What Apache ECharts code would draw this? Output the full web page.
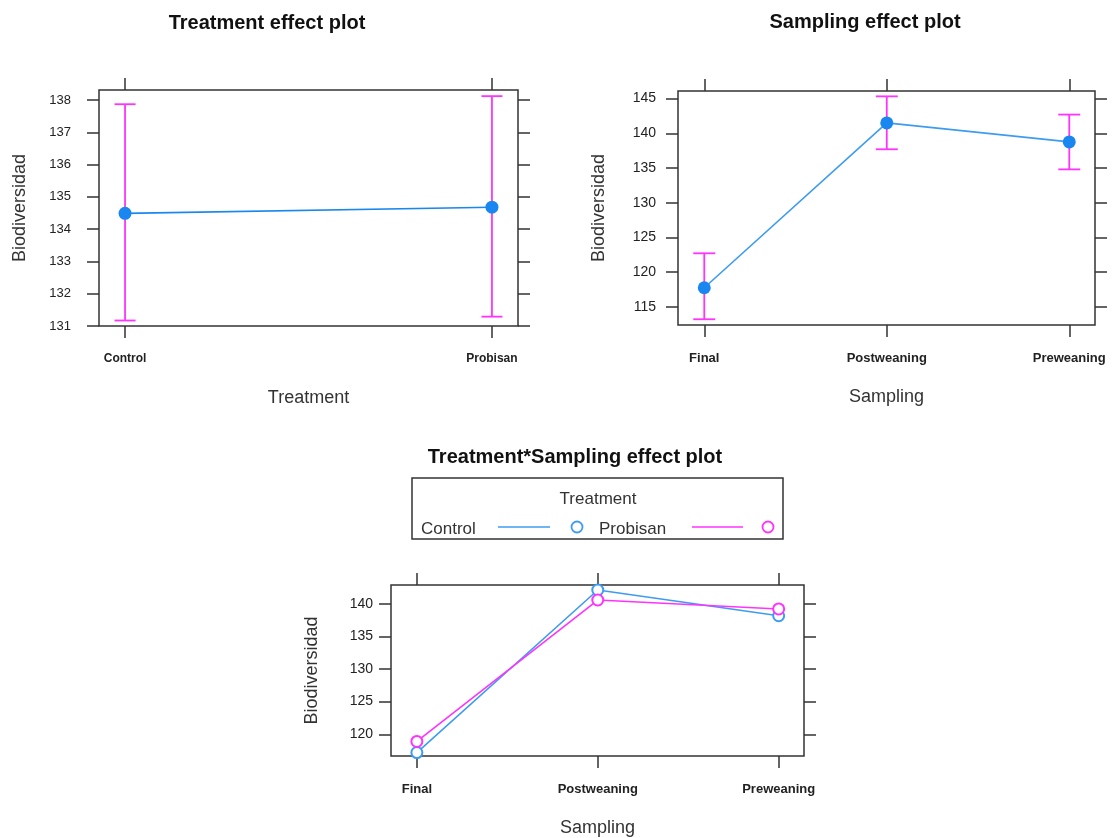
<!DOCTYPE html>
<html>
<head>
<meta charset="utf-8">
<title>effect plots</title>
<script src="https://cdn.jsdelivr.net/npm/echarts@6/dist/echarts.min.js"></script>
<style>
  html, body { margin: 0; padding: 0; background: #fff; }
  #main { width: 1115px; height: 838px; }
</style>
</head>
<body>
<div id="main"></div>
<script>
// data
var treatCats = ['Control', 'Probisan'];
var treatFit = [134.49, 134.68];
var treatLower = [131.17, 131.29];
var treatUpper = [137.87, 138.12];

var sampCats = ['Final', 'Postweaning', 'Preweaning'];
var sampFit = [117.73, 141.5, 138.76];
var sampLower = [113.19, 137.7, 134.8];
var sampUpper = [122.7, 145.33, 142.7];

var ctrlFit = [117.2, 142.1, 138.16];
var probFit = [118.9, 140.57, 139.2];

var treatTicks = [131, 132, 133, 134, 135, 136, 137, 138];
var sampTicks = [115, 120, 125, 130, 135, 140, 145];
var interTicks = [120, 125, 130, 135, 140];

var FONT = '"Liberation Sans", Arial, sans-serif';
var BLUE = '#1a87f0';
var LINEBLUE = '#3e9cf0';
var PINK = '#ff33ff';
var AXIS = '#333';

function pos (n) {
  var a = [];
  for (var i = 1; i <= n; i++) a.push(i);
  return a;
}

// bottom + top x axes for one grid
function xAxes (grid, cats, min, max, name, fontSize) {
  var base = {
    type: 'value', gridIndex: grid, min: min, max: max,
    splitLine: { show: false },
    axisLine: { show: false },
    axisTick: { show: true, inside: false, length: 12, customValues: pos(cats.length), lineStyle: { color: AXIS, width: 1.5 } }
  };
  var bottom = Object.assign({}, base, {
    position: 'bottom',
    name: name, nameLocation: 'middle', nameGap: 63,
    nameTextStyle: { fontFamily: FONT, fontSize: 18, color: '#333' },
    axisLabel: {
      customValues: pos(cats.length), margin: 27,
      fontFamily: FONT, fontSize: fontSize, fontWeight: 'bold', color: '#222',
      formatter: function (v) { return cats[Math.round(v) - 1] || ''; }
    }
  });
  var top = Object.assign({}, base, { position: 'top', axisLabel: { show: false } });
  return [bottom, top];
}

// left + right y axes for one grid
function yAxes (grid, ticks, min, max, margin, fontSize) {
  var base = {
    type: 'value', gridIndex: grid, min: min, max: max,
    splitLine: { show: false },
    axisLine: { show: false },
    axisTick: { show: true, inside: false, length: 12, customValues: ticks, lineStyle: { color: AXIS, width: 1.5 } }
  };
  var left = Object.assign({}, base, {
    position: 'left',
    name: 'Biodiversidad', nameLocation: 'middle', nameGap: 70, nameRotate: 90,
    nameTextStyle: { fontFamily: FONT, fontSize: 18, color: '#333' },
    axisLabel: { customValues: ticks, margin: margin, fontFamily: FONT, fontSize: fontSize, color: '#222' }
  });
  var right = Object.assign({}, base, { position: 'right', axisLabel: { show: false } });
  return [left, right];
}

function errorBars (xi, yi, lower, upper, cap) {
  return {
    type: 'custom', xAxisIndex: xi, yAxisIndex: yi, z: 2,
    encode: { x: 0, y: [1, 2] },
    data: lower.map(function (l, i) { return [i + 1, l, upper[i]]; }),
    renderItem: function (params, api) {
      var lo = api.coord([api.value(0), api.value(1)]);
      var hi = api.coord([api.value(0), api.value(2)]);
      var st = { stroke: PINK, lineWidth: 1.8 };
      return {
        type: 'group',
        children: [
          { type: 'line', shape: { x1: lo[0], y1: lo[1], x2: hi[0], y2: hi[1] }, style: st },
          { type: 'line', shape: { x1: lo[0] - cap, y1: lo[1], x2: lo[0] + cap, y2: lo[1] }, style: st },
          { type: 'line', shape: { x1: hi[0] - cap, y1: hi[1], x2: hi[0] + cap, y2: hi[1] }, style: st }
        ]
      };
    }
  };
}

function toPairs (vals) {
  return vals.map(function (v, i) { return [i + 1, v]; });
}

var chart = echarts.init(document.getElementById('main'));

var gridStyle = { show: true, borderColor: AXIS, borderWidth: 1.5, backgroundColor: 'transparent' };

var option = {
  animation: false,
  backgroundColor: '#fff',
  grid: [
    Object.assign({ left: 99, top: 90, width: 419, height: 236 }, gridStyle),
    Object.assign({ left: 678, top: 91, width: 417, height: 234 }, gridStyle),
    Object.assign({ left: 391, top: 585, width: 413, height: 171 }, gridStyle)
  ],
  xAxis: [].concat(
    xAxes(0, treatCats, 0.929, 2.071, 'Treatment', 12),
    xAxes(1, sampCats, 0.856, 3.141, 'Sampling', 13),
    xAxes(2, sampCats, 0.857, 3.14, 'Sampling', 13)
  ),
  yAxis: [].concat(
    yAxes(0, treatTicks, 131, 138.31, 28, 13),
    yAxes(1, sampTicks, 112.36, 146.1, 22, 14),
    yAxes(2, interTicks, 116.67, 142.87, 18, 14)
  ),
  graphic: [
    { type: 'text', x: 267, y: 23, style: { text: 'Treatment effect plot', font: 'bold 20px ' + FONT, fill: '#111', align: 'center', verticalAlign: 'middle' } },
    { type: 'text', x: 865, y: 22, style: { text: 'Sampling effect plot', font: 'bold 20px ' + FONT, fill: '#111', align: 'center', verticalAlign: 'middle' } },
    { type: 'text', x: 575, y: 457, style: { text: 'Treatment*Sampling effect plot', font: 'bold 20px ' + FONT, fill: '#111', align: 'center', verticalAlign: 'middle' } },
    // legend box
    { type: 'rect', shape: { x: 412, y: 478, width: 371, height: 61 }, style: { fill: 'none', stroke: AXIS, lineWidth: 1.5 } },
    { type: 'text', x: 598, y: 499, style: { text: 'Treatment', font: '17px ' + FONT, fill: '#333', align: 'center', verticalAlign: 'middle' } },
    { type: 'text', x: 421, y: 529, style: { text: 'Control', font: '17px ' + FONT, fill: '#333', align: 'left', verticalAlign: 'middle' } },
    { type: 'line', shape: { x1: 498, y1: 527, x2: 550, y2: 527 }, style: { stroke: LINEBLUE, lineWidth: 1.6 } },
    { type: 'circle', shape: { cx: 577, cy: 527, r: 5.5 }, style: { fill: 'none', stroke: LINEBLUE, lineWidth: 1.8 } },
    { type: 'text', x: 599, y: 529, style: { text: 'Probisan', font: '17px ' + FONT, fill: '#333', align: 'left', verticalAlign: 'middle' } },
    { type: 'line', shape: { x1: 692, y1: 527, x2: 743, y2: 527 }, style: { stroke: PINK, lineWidth: 1.6 } },
    { type: 'circle', shape: { cx: 768, cy: 527, r: 5.5 }, style: { fill: 'none', stroke: PINK, lineWidth: 1.8 } }
  ],
  series: [
    errorBars(0, 0, treatLower, treatUpper, 10.5),
    {
      type: 'line', xAxisIndex: 0, yAxisIndex: 0, z: 3,
      data: toPairs(treatFit),
      symbol: 'circle', symbolSize: 13,
      itemStyle: { color: BLUE },
      lineStyle: { color: BLUE, width: 1.6 }
    },
    errorBars(2, 2, sampLower, sampUpper, 11),
    {
      type: 'line', xAxisIndex: 2, yAxisIndex: 2, z: 3,
      data: toPairs(sampFit),
      symbol: 'circle', symbolSize: 13,
      itemStyle: { color: BLUE },
      lineStyle: { color: LINEBLUE, width: 1.6 }
    },
    {
      name: 'Control', type: 'line', xAxisIndex: 4, yAxisIndex: 4, z: 3,
      data: toPairs(ctrlFit),
      symbol: 'emptyCircle', symbolSize: 11,
      itemStyle: { color: LINEBLUE, borderWidth: 1.6 },
      lineStyle: { color: LINEBLUE, width: 1.6 }
    },
    {
      name: 'Probisan', type: 'line', xAxisIndex: 4, yAxisIndex: 4, z: 3,
      data: toPairs(probFit),
      symbol: 'emptyCircle', symbolSize: 11,
      itemStyle: { color: PINK, borderWidth: 1.6 },
      lineStyle: { color: PINK, width: 1.6 }
    }
  ]
};

chart.setOption(option);
</script>
</body>
</html>
